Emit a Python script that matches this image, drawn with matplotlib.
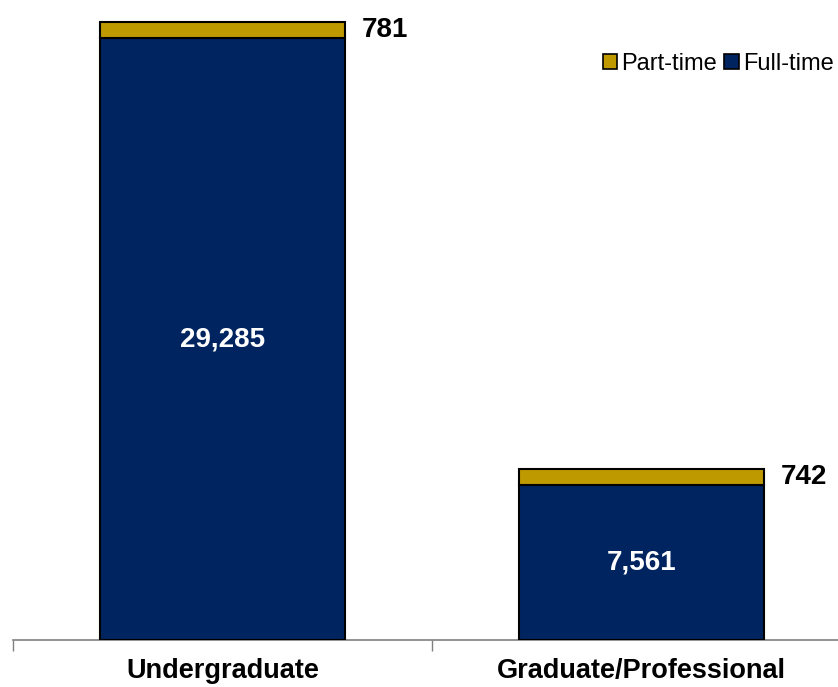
import matplotlib
matplotlib.use("Agg")
import matplotlib.pyplot as plt
from matplotlib.patches import Patch
import numpy as np

categories = ["Undergraduate", "Graduate/Professional"]
full_time = [29285, 7561]
part_time = [781, 742]

navy = "#00245F"
gold = "#BF9900"

plt.rcParams['font.family'] = ['Liberation Sans', 'DejaVu Sans']

fig = plt.figure(figsize=(8.38, 6.87), dpi=100)
ax = fig.add_axes([13/838, 47/687, 838/838, 640/687])

x = np.arange(len(categories))
w = 0.587
ax.bar(x, full_time, width=w, color=navy, edgecolor="black", linewidth=1.5, zorder=3)
ax.bar(x, part_time, width=w, bottom=full_time, color=gold, edgecolor="black", linewidth=1.5, zorder=3)

for i in range(len(categories)):
    ax.text(x[i], full_time[i] / 2, f"{full_time[i]:,}", color="white", fontsize=20,
            fontweight="bold", ha="center", va="center", zorder=4)
    ax.text(x[i] + w / 2 + 0.04, full_time[i] + part_time[i] / 2, f"{part_time[i]:,}",
            color="black", fontsize=20, fontweight="bold", ha="left", va="center", zorder=4)

ax.set_xlim(-0.5, 1.5)
ax.set_ylim(0, 31150)
for s in ["top", "right", "left"]:
    ax.spines[s].set_visible(False)
ax.spines["bottom"].set_color("#808080")
ax.spines["bottom"].set_linewidth(1.2)
ax.set_yticks([])
ax.set_xticks([-0.5, 0.5, 1.5], minor=False)
ax.set_xticklabels([])
ax.tick_params(axis="x", which="major", length=8, color="#808080", width=1)
ax.set_xticks(x, minor=True)
ax.set_xticklabels(categories, minor=True, fontsize=19.5, fontweight="bold")
ax.tick_params(axis="x", which="minor", length=0, pad=13)

handles = [Patch(facecolor=gold, edgecolor="black", linewidth=1.2, label="Part-time"),
           Patch(facecolor=navy, edgecolor="black", linewidth=1.2, label="Full-time")]
leg = ax.legend(handles=handles, loc="upper right", bbox_to_anchor=(0.991, 0.932), ncol=2,
                frameon=False, fontsize=17, handlelength=0.6, handleheight=0.6,
                handletextpad=0.2, columnspacing=0.3, borderaxespad=0)

fig.savefig("out.png", dpi=100)
